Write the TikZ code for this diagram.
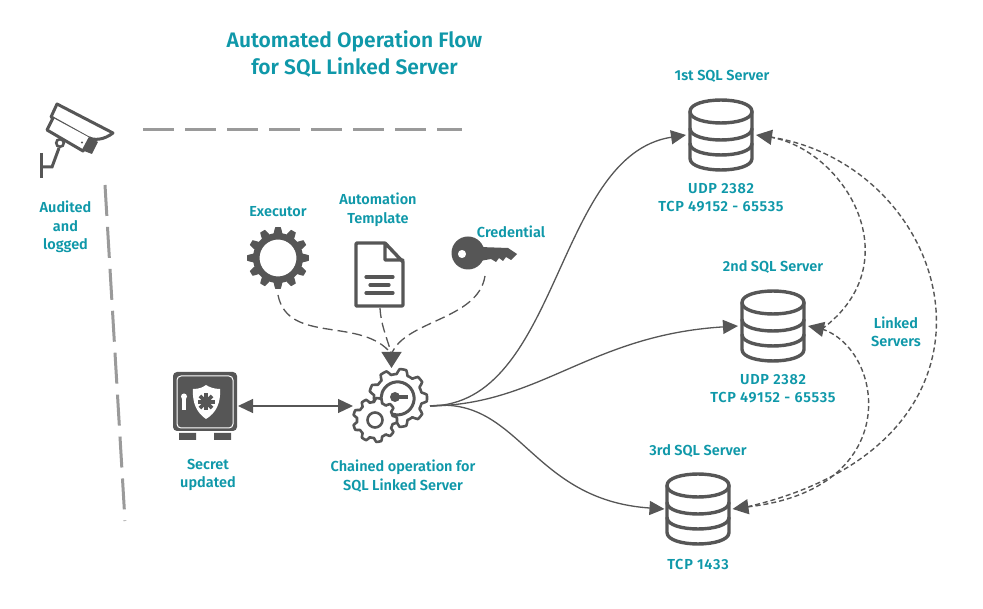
\documentclass[tikz,border=0pt]{standalone}
\usepackage{fontspec}
\setmainfont{Fira Sans}[BoldFont={Fira Sans SemiBold}]
\usetikzlibrary{arrows.meta,calc}
\definecolor{ink}{HTML}{565656}
\definecolor{teal}{HTML}{0F98A9}
\definecolor{trail}{HTML}{9A9A9A}
\tikzset{
  x=1pt,y=-1pt,
  label/.style={text=teal,font=\fontsize{14.5}{18.5}\selectfont\bfseries,align=center,inner sep=0pt},
  portlabel/.style={label,font=\fontsize{14.5}{18}\selectfont\bfseries\addfontfeatures{LetterSpace=5}},
  titlelabel/.style={text=teal,font=\fontsize{21}{27}\selectfont\bfseries,align=center,inner sep=0pt},
  icon/.style={inner sep=0pt,outer sep=0pt,minimum width=#1},
  trail line/.style={draw=trail,line width=3pt,dash pattern=on 31pt off 11pt},
  flow/.style={draw=ink,line width=1.3pt,-{Triangle[length=15pt,width=14pt]}},
  both flow/.style={draw=ink,line width=1.3pt,{Triangle[length=15pt,width=14pt]}-{Triangle[length=15pt,width=14pt]}},
  feed/.style={draw=ink,line width=1.3pt,dash pattern=on 10pt off 5pt},
  feedtip/.style={draw=ink,line width=1.3pt,-{Triangle[length=16pt,width=20pt]}},
  link/.style={draw=ink,line width=1.4pt,dash pattern=on 5pt off 3pt},
  linktip/.style={draw=ink,line width=1.4pt,-{Triangle[length=16pt,width=15pt]}},
  iconline/.style={draw=ink,line width=3.4pt,line join=round,line cap=round},
  declare function={gearr(\t,\n,\ra,\rb)=\rb+(\ra-\rb)*max(0,min(1,0.5+1.6*cos(\n*\t)));}
}
\newcommand\gearshape[5]{% cx cy rout rin teeth
  plot[domain=0:360,samples=#5*12+1,variable=\t]
  ({#1+gearr(\t,#5,#3,#4)*cos(\t)},{#2+gearr(\t,#5,#3,#4)*sin(\t)}) -- cycle}
\newcommand\dbicon[2]{%
  \begin{scope}[shift={(#1,#2)}]
    \draw[iconline,fill=white] (-31,-23.5) .. controls (-31,-38.8) and (31,-38.8) .. (31,-23.5)
      -- (31,23.5) .. controls (31,38.8) and (-31,38.8) .. (-31,23.5) -- cycle;
    \draw[iconline] (-31,-23.5) .. controls (-31,-8.2) and (31,-8.2) .. (31,-23.5);
    \draw[iconline] (-31,-6.5) .. controls (-31,8.8) and (31,8.8) .. (31,-6.5);
    \draw[iconline] (-31,8.5) .. controls (-31,23.8) and (31,23.8) .. (31,8.5);
  \end{scope}}
\begin{document}
\begin{tikzpicture}
\useasboundingbox (0,0) rectangle (983,609);
% audit trail
\coordinate (hstart) at (143,130); \coordinate (hend) at (462,130);
\coordinate (vstart) at (105,185); \coordinate (vend) at (125,521);
\draw[trail line] (hstart) -- (hend);
\draw[trail line] (vstart) -- (vend);
% camera
\draw[iconline,line width=3pt,fill=white] (57,104) -- (113,133) .. controls (104,140) and (94,141) .. (87,137) -- (51,117) -- cycle;
\draw[iconline,line width=3pt,fill=white] (53,118) -- (47,130) -- (83,151) -- (90,138);
\fill[ink] (84,151) -- (92,154) -- (98,142) -- (90,138) -- cycle;
\fill[ink] (82,142.5) circle (1.2);
\draw[draw=ink,line width=2.6pt] (60,143) circle (3.8);
\draw[draw=ink,line width=3pt] (59,148) -- (52,167) -- (42,167);
\draw[draw=ink,line width=3pt] (41,153) -- (41,178);
% gear executor
\fill[ink,even odd rule] \gearshape{278}{258}{31}{25}{12} (278,258) circle (18.5);
% template
\draw[iconline] (385,243) -- (358,243) .. controls (356,243) and (356,243) .. (356,245) -- (356,305)
  .. controls (356,306) and (356,306) .. (358,306) -- (402,306) .. controls (403,306) and (403,306) .. (403,305) -- (403,262) -- (385,243) -- (385,260) -- (403,260);
\draw[draw=ink,line width=3.2pt,line cap=round] (366,277) -- (393,277) (370,285) -- (389,285) (366,293) -- (393,293);
% key
\fill[ink,even odd rule] (468,253) circle (16.5) (462,254) circle (4.2);
\fill[ink] (480,247) -- (508,248) -- (517,254) -- (511,260) -- (506,257) -- (503,261) -- (499,258) -- (496,262) -- (491,259) -- (480,261) -- cycle;
% safe
\fill[ink,rounded corners=4pt] (173,372) rectangle (237,431);
\draw[white,line width=1pt,rounded corners=4pt] (177,376) rectangle (233,428);
\fill[ink] (179,433) rectangle (196,440) (214,433) rectangle (231,440);
\fill[white] (193,389) .. controls (200,389) and (203,387) .. (206,385) .. controls (209,387) and (214,389) .. (220,389)
  .. controls (221,403) and (216,413) .. (206,419) .. controls (197,413) and (192,403) .. (193,389) -- cycle;
\foreach \a in {0,45,...,315}{\draw[ink,line width=3.6pt] (206,402) -- ++(\a:8.5);}
\fill[white] (184,396.5) circle (3);
\fill[white] (182.4,396.5) rectangle (185.6,410);
% chained gears
\draw[draw=ink,line width=2.6pt,line join=round] \gearshape{398}{398}{29}{24}{9};
\draw[draw=ink,line width=3pt] (387,411) arc[start angle=130,end angle=-215,radius=16.5];
\fill[ink] (395,397) circle (5);
\fill[ink] (395,395) rectangle (408,399);
\draw[draw=ink,fill=white,line width=2.6pt,line join=round] \gearshape{375}{420}{22}{18}{9};
\draw[draw=ink,fill=white,line width=2.6pt] (375,420) circle (7.5);
% hidden icon nodes
\node[icon=65pt,minimum height=70pt] (safe) at (205.5,406) {};
\node[icon=77pt,minimum height=76pt] (ops) at (391.5,406) {};
\node[icon=62pt,minimum height=62pt] (exec) at (278,258) {};
\node[icon=52pt,minimum height=66pt] (tmpl) at (380,275) {};
\node[icon=64pt,minimum height=40pt] (keyicon) at (484,253) {};
\node[icon=70pt,minimum height=72pt] (db1) at (721,135) {};
\node[icon=70pt,minimum height=72pt] (db2) at (773,326) {};
\node[icon=68pt,minimum height=72pt] (db3) at (698.5,509) {};
\dbicon{721}{135}
\dbicon{773}{326}
\dbicon{698}{509}
% arrival points shared by merged connectors
\coordinate (feedjoin) at ($(ops.north)+(0,-14)$);
\coordinate (linkone) at ($(db1.east)+(14,2)$);
\coordinate (linktwo) at ($(db2.east)+(14,3)$);
\coordinate (linkthree) at ($(db3.east)+(14,-2)$);
% connectors
\draw[both flow] (safe.east) -- (ops.west);
\draw[feed] (exec.south) ++(0,6) .. controls (288,345) and (362,316) .. (feedjoin);
\draw[feed] (tmpl.south) .. controls (381,325) and (386,335) .. (feedjoin);
\draw[feed] (keyicon.south) ++(1,3) .. controls (478,320) and (405,320) .. (feedjoin);
\draw[feedtip] (feedjoin) -- (ops.north);
\draw[flow] (ops.east) .. controls (560,405) and (555,155) .. (db1.west);
\draw[flow] (ops.east) .. controls (540,405) and (590,335) .. (db2.west);
\draw[flow] (ops.east) .. controls (520,395) and (530,500) .. (db3.west);
\draw[link] (linkone) .. controls (845,150) and (912,262) .. (linktwo);
\draw[link] (linkone) .. controls (955,165) and (1035,440) .. (linkthree);
\draw[link] (linktwo) .. controls (885,350) and (905,490) .. (linkthree);
\draw[linktip] (linkone) -- (db1.east);
\draw[linktip] (linktwo) -- (db2.east);
\draw[linktip] (linkthree) -- (db3.east);
% labels
\node[titlelabel] (title) at (354.5,54) {Automated Operation Flow\\for SQL Linked Server};
\node[label] (audit) at (65.5,227) {Audited\\and\\logged};
\node[label] (lexec) at (278,212) {Executor};
\node[label] (ltmpl) at (378,210) {Automation\\Template};
\node[label] (lcred) at (511,232) {Credential};
\node[label] (lsafe) at (208,475) {Secret\\updated};
\node[label] (lops) at (403,476) {Chained operation for\\SQL Linked Server};
\node[label] (n1) at (722,76) {1st SQL Server};
\node[portlabel] (p1) at (721,198) {UDP 2382\\TCP 49152 - 65535};
\node[label] (n2) at (773,267) {2nd SQL Server};
\node[portlabel] (p2) at (773,389) {UDP 2382\\TCP 49152 - 65535};
\node[label] (n3) at (698,451) {3rd SQL Server};
\node[portlabel] (p3) at (698,564.5) {TCP 1433};
\node[label] (ll) at (896,332) {Linked\\Servers};
\end{tikzpicture}
\end{document}
